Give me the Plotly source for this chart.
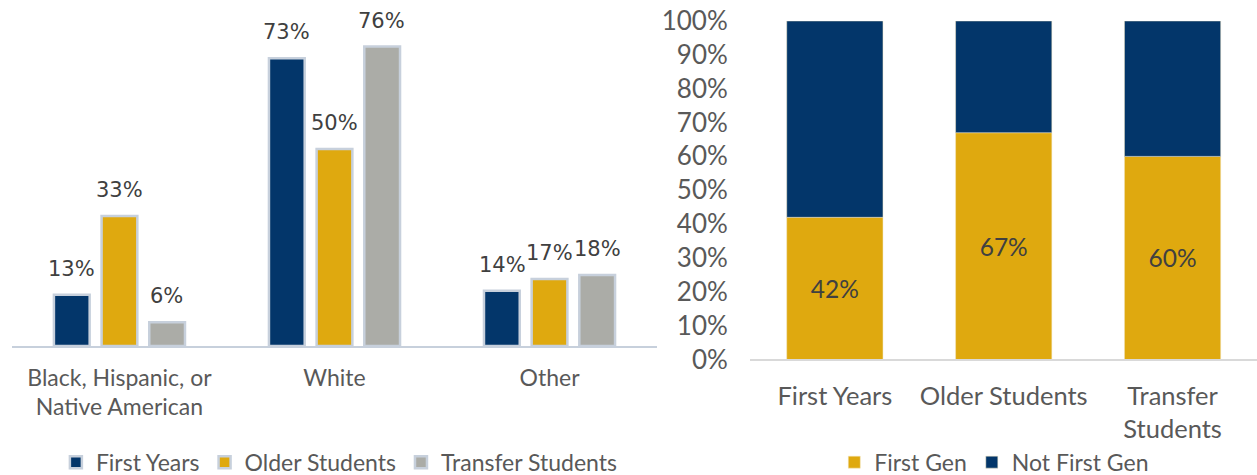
import plotly.graph_objects as go

# ---- data ----
race_categories = ["Black, Hispanic, or<br>Native American", "White", "Other"]
race_series = ["First Years", "Older Students", "Transfer Students"]
first_years = [13, 73, 14]
older_students = [33, 50, 17]
transfer_students = [6, 76, 18]

gen_categories = ["First Years", "Older Students", "Transfer<br>Students"]
first_gen = [42, 67, 60]
not_first_gen = [58, 33, 40]

y_ticks = [0, 10, 20, 30, 40, 50, 60, 70, 80, 90, 100]
y_ticktext = [f"{v}%" for v in y_ticks]

NAVY = "#03366A"
GOLD = "#DFA90F"
GRAY = "#ABACA7"
BORDER = "#C7D0DC"
TXT = "#595959"
LBL = "#404040"
FONT = "Lato"

fig = go.Figure()

left_values = [first_years, older_students, transfer_students]
left_colors = [NAVY, GOLD, GRAY]
for name, vals, col in zip(race_series, left_values, left_colors):
    fig.add_trace(go.Bar(
        x=race_categories, y=vals, name=name,
        marker=dict(color=col, line=dict(color=BORDER, width=2.5)),
        xaxis="x", yaxis="y", legend="legend",
    ))

# value labels above left bars
shifts = [-47.5, 0, 47.5]
annotations = []
for vals, dx in zip(left_values, shifts):
    for cat, v in zip(race_categories, vals):
        annotations.append(dict(
            x=cat, y=v, xref="x", yref="y", text=f"{v}%",
            showarrow=False, xshift=dx, yshift=26,
            font=dict(family="DejaVu Sans", size=21, color=LBL),
            xanchor="center", yanchor="middle",
        ))

# right stacked chart
fig.add_trace(go.Bar(
    x=gen_categories, y=first_gen, name="First Gen",
    marker=dict(color=GOLD, line=dict(color="#F2E6C4", width=0.5)),
    width=0.57, offset=-0.285,
    text=[f"{v}%" for v in first_gen], textposition="inside",
    insidetextanchor="middle",
    textfont=dict(family=FONT, size=24.5, color=LBL),
    xaxis="x2", yaxis="y2", legend="legend2",
))
fig.add_trace(go.Bar(
    x=gen_categories, y=not_first_gen, base=first_gen, name="Not First Gen",
    marker=dict(color=NAVY, line=dict(color="#F2E6C4", width=0.5)),
    width=0.57, offset=-0.285,
    xaxis="x2", yaxis="y2", legend="legend2",
))

fig.update_layout(
    template="none",
    width=1257, height=475,
    margin=dict(l=0, r=0, t=0, b=0, autoexpand=False),
    paper_bgcolor="white", plot_bgcolor="white",
    barmode="group", bargap=0.335, bargroupgap=0.25,
    font=dict(family=FONT, color=TXT),
    showlegend=True,
    xaxis=dict(domain=[0.0095, 0.5227], anchor="y", showline=True, linecolor=BORDER, linewidth=2,
               showgrid=False, zeroline=False, ticks="", tickfont=dict(size=23, color=TXT),
               ticklabelstandoff=10, automargin=False),
    yaxis=dict(domain=[0.2716, 1], range=[0, 87.8], visible=False, showgrid=False,
               automargin=False),
    xaxis2=dict(domain=[0.597, 1], anchor="y2", showline=True, linecolor="#D9D9D9", linewidth=1.5,
                showgrid=False, zeroline=False, ticks="", tickfont=dict(size=25.5, color=TXT),
                ticklabelstandoff=13, automargin=False),
    yaxis2=dict(domain=[0.2432, 0.9558], range=[0, 100], anchor="free", position=0.579,
                tickvals=y_ticks, ticktext=y_ticktext, showgrid=False, zeroline=False,
                showline=False, ticks="", tickfont=dict(size=26, color=TXT),
                ticklabelstandoff=0, automargin=False),
    legend=dict(orientation="h", x=0.27, y=0.027, xanchor="center", yanchor="middle",
                font=dict(size=23, color=TXT), bgcolor="rgba(0,0,0,0)"),
    legend2=dict(orientation="h", x=0.791, y=0.027, xanchor="center", yanchor="middle",
                 font=dict(size=23, color=TXT), bgcolor="rgba(0,0,0,0)"),
    annotations=annotations,
)

fig.write_html("out.html", config={"displayModeBar": False},
               post_script="document.body.style.margin='0px';")
